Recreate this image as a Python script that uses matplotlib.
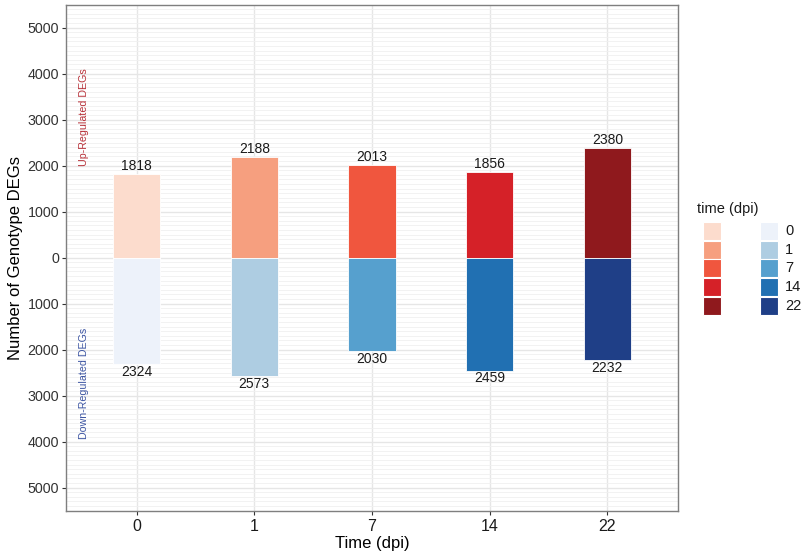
import matplotlib
matplotlib.use("Agg")
import matplotlib.pyplot as plt
from matplotlib.patches import Rectangle
from matplotlib.ticker import MultipleLocator, FuncFormatter

plt.rcParams['font.family'] = ['Liberation Sans', 'DejaVu Sans']

timepoints = ["0", "1", "7", "14", "22"]
up_counts = [1818, 2188, 2013, 1856, 2380]
down_counts = [2324, 2573, 2030, 2459, 2232]
up_colors = ["#fcdccd", "#f69f7f", "#f0563e", "#d52128", "#8f191d"]
down_colors = ["#edf2fa", "#aecde2", "#56a0ce", "#2170b2", "#1f3f87"]

W, H = 806, 559
fig = plt.figure(figsize=(W / 100, H / 100), dpi=100)
ax = fig.add_axes([66 / W, 1 - 511 / H, (678 - 66) / W, (511 - 5) / H])

x = list(range(len(timepoints)))
ax.bar(x, up_counts, width=0.4, color=up_colors, edgecolor="white", linewidth=0.6, zorder=3)
ax.bar(x, [-v for v in down_counts], width=0.4, color=down_colors, edgecolor="white", linewidth=0.6, zorder=3)

for xi, u, d in zip(x, up_counts, down_counts):
    ax.annotate(str(u), (xi, u), xytext=(0, 0.5), textcoords="offset points",
                ha="center", va="bottom", fontsize=10, color="#1a1a1a", zorder=4)
    ax.annotate(str(d), (xi, -d), xytext=(0, -0.5), textcoords="offset points",
                ha="center", va="top", fontsize=10, color="#1a1a1a", zorder=4)

ax.text(-0.45, 3060, "Up-Regulated DEGs", rotation=90, ha="center", va="center",
        fontsize=7.7, color="#b8333b")
ax.text(-0.45, -2730, "Down-Regulated DEGs", rotation=90, ha="center", va="center",
        fontsize=7.7, color="#3e56a3")

ax.set_xlim(-0.6, 4.6)
ax.set_ylim(-5510, 5490)
ax.set_xticks(x)
ax.set_xticklabels(timepoints, fontsize=11.5)
ax.yaxis.set_major_locator(MultipleLocator(1000))
ax.yaxis.set_minor_locator(MultipleLocator(100))
ax.yaxis.set_major_formatter(FuncFormatter(lambda v, p: f"{abs(int(round(v)))}"))
ax.tick_params(axis="y", labelsize=10.3, length=3, color="#333333", labelcolor="#333333", pad=2)
ax.tick_params(axis="y", which="minor", length=0)
ax.tick_params(axis="x", length=3, color="#333333", labelcolor="#1a1a1a", pad=3)

ax.set_facecolor("white")
ax.grid(axis="y", which="major", color="#e6e6e6", linewidth=1.0, zorder=0)
ax.grid(axis="y", which="minor", color="#f0f0f0", linewidth=0.6, zorder=0)
ax.grid(axis="x", which="major", color="#e6e6e6", linewidth=1.0, zorder=0)
ax.set_axisbelow(True)
for s in ax.spines.values():
    s.set_color("#7f7f7f")
    s.set_linewidth(1.0)

ax.set_xlabel("Time (dpi)", fontsize=12, labelpad=1)
ax.set_ylabel("Number of Genotype DEGs", fontsize=12, labelpad=3)

# legend: a column of up-regulated keys next to a labelled column of down-regulated keys
fig.text(697 / W, 1 - 209 / H, "time (dpi)", ha="left", va="center", fontsize=10.5, color="#1a1a1a")
key_w, key_h, pitch, top = 18, 18, 18.7, 222
for i, (uc, dc, lab) in enumerate(zip(up_colors, down_colors, timepoints)):
    y0 = top + i * pitch
    for x0, c in ((703, uc), (760, dc)):
        fig.add_artist(Rectangle((x0 / W, 1 - (y0 + key_h) / H), key_w / W, key_h / H,
                                 transform=fig.transFigure, facecolor=c,
                                 edgecolor="white", linewidth=0.8))
    fig.text(785 / W, 1 - (y0 + key_h / 2) / H, lab, ha="left", va="center",
             fontsize=10.5, color="#1a1a1a")

fig.savefig("out.png", dpi=100)
